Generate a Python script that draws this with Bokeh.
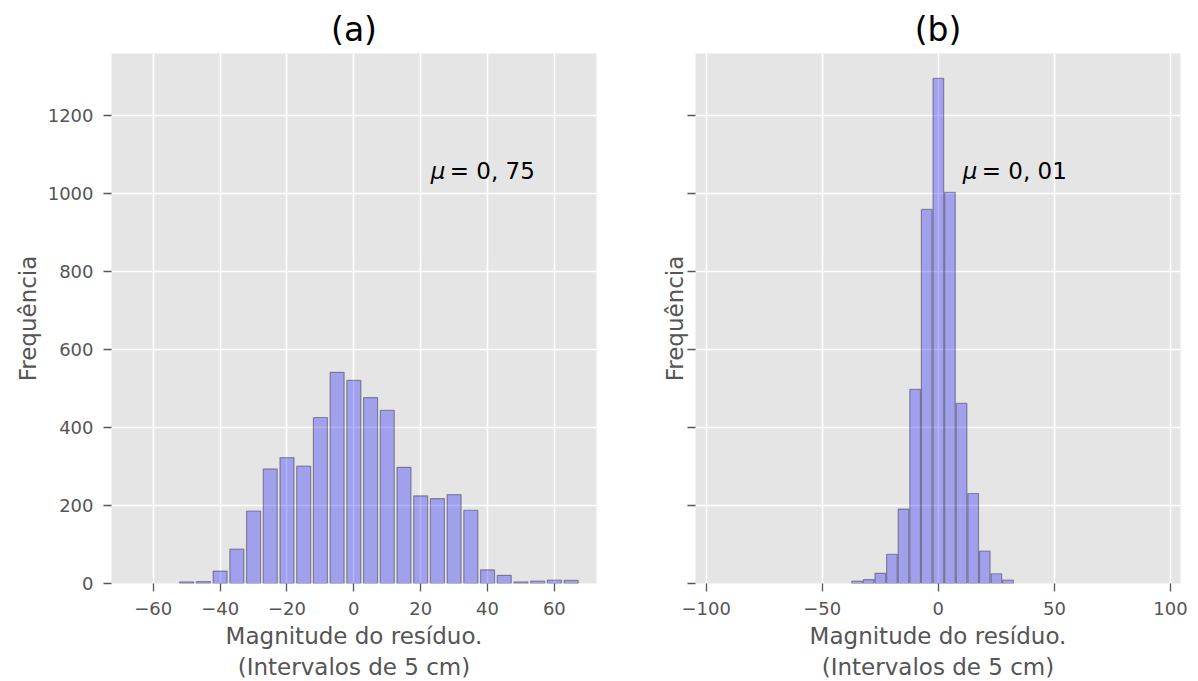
from bokeh.plotting import figure
from bokeh.layouts import row
from bokeh.models import FixedTicker, Range1d
from bokeh.core.properties import value
from bokeh.embed import file_html
from bokeh.resources import INLINE

# ---- data ----
titles = ["(a)", "(b)"]
y_label = "Frequência"
x_label = "Magnitude do resíduo.\n(Intervalos de 5 cm)"
mu_texts = ["0, 75", "0, 01"]

a_centers = [-50, -45, -40, -35, -30, -25, -20, -15, -10, -5, 0, 5, 10, 15,
             20, 25, 30, 35, 40, 45, 50, 55, 60, 65]
a_counts = [4, 5, 32, 88, 186, 294, 323, 301, 426, 542, 521, 477, 444, 298,
            225, 218, 228, 188, 35, 21, 4, 6, 9, 8]

b_centers = [-35, -30, -25, -20, -15, -10, -5, 0, 5, 10, 15, 20, 25, 30]
b_counts = [6, 10, 26, 75, 191, 498, 960, 1296, 1004, 462, 231, 83, 25, 9]

a_xticks = [-60, -40, -20, 0, 20, 40, 60]
b_xticks = [-100, -50, 0, 50, 100]
y_ticks = [0, 200, 400, 600, 800, 1000, 1200]

FONT = "DejaVu Sans"
GRAY = "#555555"


def tick_label(v):
    return ("\u2212%d" % -v) if v < 0 else "%d" % v


def make_panel(title, centers, counts, xticks, xr, bar_w, mu, mu_x, show_ylabels,
               bl, br, ystand):
    p = figure(frame_width=485, frame_height=530,
               x_range=Range1d(*xr), y_range=Range1d(0, 1360),
               output_backend="svg", toolbar_location=None,
               min_border_left=bl, min_border_right=br,
               min_border_top=53, min_border_bottom=85,
               background_fill_color="#E5E5E5", border_fill_color="white",
               outline_line_color=None)
    p.title.text = title
    p.title.align = "center"
    p.title.vertical_align = "top"
    p.title.text_font = FONT
    p.title.text_font_size = "33px"
    p.title.text_font_style = "normal"
    p.title.text_color = "black"
    p.title.standoff = 6

    p.xaxis.ticker = FixedTicker(ticks=xticks)
    p.yaxis.ticker = FixedTicker(ticks=y_ticks)
    p.xgrid.ticker = FixedTicker(ticks=xticks)
    p.ygrid.ticker = FixedTicker(ticks=y_ticks)
    for g in (p.xgrid, p.ygrid):
        g.grid_line_color = "white"
        g.grid_line_width = 1.6

    for ax in (p.xaxis, p.yaxis):
        ax.axis_line_color = None
        ax.major_tick_line_color = GRAY
        ax.major_tick_line_width = 1.3
        ax.major_tick_out = 8
        ax.major_tick_in = 0
        ax.minor_tick_line_color = None
        ax.major_label_text_font = FONT
        ax.major_label_text_font_size = "18px"
        ax.major_label_text_color = GRAY
        ax.axis_label_text_font = FONT
        ax.axis_label_text_font_size = "23px"
        ax.axis_label_text_font_style = "normal"
        ax.axis_label_text_color = GRAY

    p.xaxis.major_label_standoff = 10
    p.yaxis.major_label_standoff = 10
    p.xaxis.major_label_overrides = {t: tick_label(t) for t in xticks}
    p.xaxis.axis_label = x_label
    p.xaxis.axis_label_standoff = 5
    p.yaxis.axis_label = y_label
    p.yaxis.axis_label_standoff = ystand
    if show_ylabels:
        p.yaxis.major_label_overrides = {t: tick_label(t) for t in y_ticks}
    else:
        p.yaxis.major_label_overrides = {t: "" for t in y_ticks}

    p.vbar(x=centers, top=counts, bottom=0, width=bar_w,
           fill_color="blue", fill_alpha=0.3,
           line_color="black", line_alpha=0.35, line_width=1.2)

    p.text(x=[mu_x], y=[1058], text=["\u03bc"], text_font=value(FONT),
           text_font_style="italic", text_font_size="23px",
           text_baseline="alphabetic", text_align="left", text_color="black")
    p.text(x=[mu_x], y=[1058], text=["= " + mu], x_offset=19,
           text_font=value(FONT), text_font_size="23px",
           text_baseline="alphabetic", text_align="left", text_color="black")
    return p


p1 = make_panel(titles[0], a_centers, a_counts, a_xticks, (-72.5, 72.6), 4.2,
                mu_texts[0], 23, True, 111, 44, 4)
p2 = make_panel(titles[1], b_centers, b_counts, b_xticks, (-104.6, 104.3), 4.6,
                mu_texts[1], 10.5, False, 55, 10, 0)

layout = row(p1, p2)
open("out.html", "w").write(file_html(layout, INLINE))
